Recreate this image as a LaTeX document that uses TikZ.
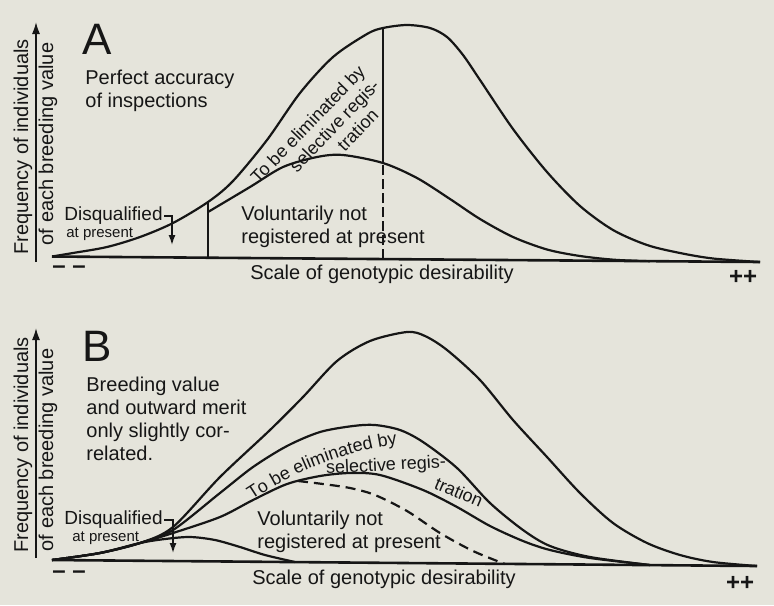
\documentclass[tikz,border=0pt]{standalone}
\usepackage{fontspec}
\setmainfont{Liberation Sans}
\usetikzlibrary{positioning,arrows.meta,decorations.text}
\definecolor{paper}{RGB}{229,228,219}
\definecolor{ink}{RGB}{22,22,22}
\tikzset{font=\fontsize{10}{11.5}\selectfont}
\tikzset{
	curve/.style={draw=ink, line width=1.1pt, line join=round},
	dashcurve/.style={curve, dash pattern=on 5pt off 3pt},
	axisline/.style={draw=ink, line width=0.8pt, -{Latex[length=6pt,width=4pt]}},
	scaleline/.style={draw=ink, line width=1.3pt},
	divider/.style={draw=ink, line width=0.8pt},
	pointer/.style={draw=ink, line width=0.7pt, -{Latex[length=5pt,width=3.5pt]}},
	bigletter/.style={font=\fontsize{22}{22}\selectfont},
	disqtext/.style={font=\fontsize{9.5}{10}\selectfont, inner sep=0.5pt},
	smalltext/.style={font=\fontsize{7.5}{8}\selectfont, inner sep=0pt},
	slanttext/.style={font=\fontsize{9}{10}\selectfont},
	endmark/.style={font=\fontsize{12}{12}\selectfont\bfseries},
}

\begin{document}
\begin{tikzpicture}[x=0.5pt, y=-0.5pt]
	\path[use as bounding box, fill=paper] (0,0) rectangle (774,605);

	% A: perfect accuracy of inspections
	\begin{scope}
		\tikzstyle{every node}=[inner sep=1pt, text=ink]
		\node[bigletter] (tagA) at (97,39) {A};
		\node[anchor=west, align=left] (noteA) at (83,91) {Perfect accuracy\\of inspections};
		\node[rotate=90] (freqA) at (23,147) {Frequency of individuals};
		\node[rotate=90] (eachA) at (48,144) {of each breeding value};
		\node[anchor=west, disqtext] (disqA) at (63,216) {Disqualified};
		\node[anchor=west, smalltext] (nowA) at (66,234) {at present};
		\node[anchor=west, align=left] (volA) at (239,227) {Voluntarily not\\registered at present};
		\node[slanttext, rotate=46, align=right] (elimA) at (322,138) {To be eliminated by\\selective regis-\\tration\hspace*{11pt}};
		\node (scaleA) at (382,274) {Scale of genotypic desirability};
		\node[endmark] (lowA) at (69,270) {-- --};
		\node[endmark] (highA) at (743,277) {++};

		\coordinate (yA0) at (36,262);
		\coordinate (yA1) at (36,22);
		\coordinate (bA0) at (52,256.5);
		\coordinate (bA1) at (760,262);
		\coordinate (tipA) at (172,245);
		\draw[axisline] (yA0) -- (yA1);
		\draw[scaleline] (bA0) -- (bA1);
		\draw[pointer] (disqA.east) -| (tipA);

		\draw[curve] plot[smooth] coordinates {(52,256.5) (73,253) (107,247) (140,237) (173,223) (208,202)
			(233,181) (267,140) (300,93) (333,57) (367,34) (383,28) (407,25) (430,28) (447,37) (463,55)
			(480,80) (513,129) (547,172) (580,206) (613,230) (647,245) (680,253) (713,258.5) (760,262)};
		\draw[curve] plot[smooth] coordinates {(208,212) (250,187) (283,167) (317,157) (343,155) (383,163)
			(417,178) (450,199) (480,219) (513,237) (547,249.5) (580,256) (615,259.8) (650,261.2)};

		\coordinate (cutA0) at (208,257.7);
		\coordinate (cutA1) at (208,202);
		\coordinate (cutB0) at (383,259.1);
		\coordinate (cutB1) at (383,163);
		\coordinate (cutB2) at (383,27);
		\draw[divider] (cutA0) -- (cutA1);
		\draw[divider, dash pattern=on 5pt off 2pt] (cutB0) -- (cutB1);
		\draw[divider] (cutB1) -- (cutB2);
	\end{scope}

	% B: breeding value and outward merit slightly correlated
	\begin{scope}
		\tikzstyle{every node}=[inner sep=1pt, text=ink]
		\node[bigletter] (tagB) at (97,346) {B};
		\node[anchor=west, align=left, font=\fontsize{10}{11.4}\selectfont] (noteB) at (84,419) {Breeding value\\and outward merit\\only slightly cor-\\related.};
		\node[rotate=90] (freqB) at (23,445) {Frequency of individuals};
		\node[rotate=90] (eachB) at (48,450) {of each breeding value};
		\node[anchor=west, disqtext] (disqB) at (63,520) {Disqualified};
		\node[anchor=west, smalltext] (nowB) at (72,538) {at present};
		\node[anchor=west, align=left] (volB) at (255,532) {Voluntarily not\\registered at present};
		\node[slanttext, rotate=3] (elimB2) at (386,466) {selective regis-};
		\node[slanttext, rotate=-23] (elimB3) at (459,492) {tration};
		\node (scaleB) at (384,579) {Scale of genotypic desirability};
		\node[endmark] (lowB) at (69,575) {-- --};
		\node[endmark] (highB) at (740,583) {++};
		\path[decorate, decoration={text along path,
			text={|\fontsize{9}{10}\selectfont\color{ink}|To be eliminated by}}]
			(252,500) .. controls (285,478) and (335,452) .. (400,444) -- (430,443);

		\coordinate (yB0) at (36,558);
		\coordinate (yB1) at (36,328);
		\coordinate (bB0) at (52,560);
		\coordinate (bB1) at (757,566);
		\coordinate (tipB) at (173,553);
		\draw[axisline] (yB0) -- (yB1);
		\draw[scaleline] (bB0) -- (bB1);
		\draw[pointer] (disqB.east) -| (tipB);

		\draw[curve] plot[smooth] coordinates {(52,560) (100,553) (140,543) (173,527) (220,477) (270,430)
			(303,397) (337,361) (370,341) (407,332) (425,336) (447,350) (480,380) (513,420) (547,457)
			(580,493) (613,523) (647,543) (680,555) (713,562) (757,566)};
		\draw[curve] plot[smooth] coordinates {(52,560) (100,553) (140,543) (173,530) (220,493) (253,467)
			(287,446) (320,432) (353,426) (375,425) (400,430) (423,442) (457,468) (490,503) (523,530)
			(550,546) (590,557) (650,565)};
		\draw[curve] plot[smooth] coordinates {(52,560) (100,553) (140,543) (173,533) (220,517) (253,500)
			(287,484) (320,476) (350,473) (380,475) (423,490) (457,507) (490,526) (523,541) (550,550)
			(590,558) (650,565)};
		\draw[dashcurve] plot[smooth] coordinates {(298,481) (323,484) (350,488) (375,495) (407,511)
			(440,533) (473,551) (505,564)};
		\draw[curve] plot[smooth] coordinates {(52,560) (100,553) (140,543) (165,539) (190,537) (215,540)
			(240,547) (265,555) (295,562)};
	\end{scope}
\end{tikzpicture}
\end{document}
